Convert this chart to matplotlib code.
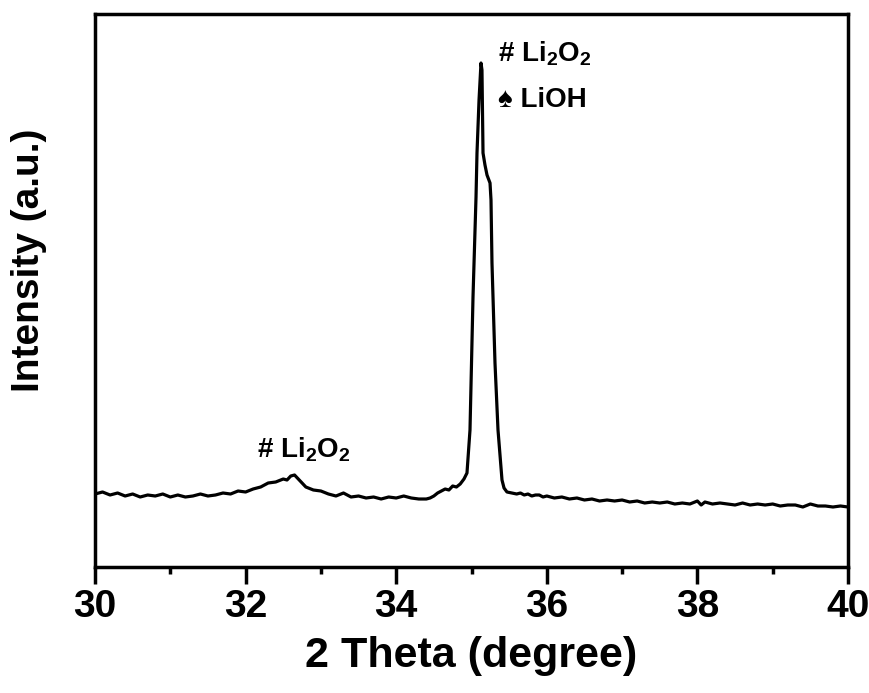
import matplotlib
matplotlib.use("Agg")
import matplotlib.pyplot as plt
from matplotlib.ticker import MultipleLocator

two_theta = [30.0, 30.1, 30.2, 30.3, 30.4, 30.5, 30.6, 30.7, 30.8, 30.9,
             31.0, 31.1, 31.2, 31.3, 31.4, 31.5, 31.6, 31.7, 31.8, 31.9,
             32.0, 32.1, 32.2, 32.3, 32.4, 32.5, 32.55, 32.6, 32.65, 32.7,
             32.75, 32.8, 32.9, 33.0, 33.1, 33.2, 33.3, 33.4, 33.5, 33.6,
             33.7, 33.8, 33.9, 34.0, 34.1, 34.2, 34.3, 34.4, 34.45, 34.5,
             34.55, 34.6, 34.65, 34.7, 34.75, 34.8, 34.85, 34.9, 34.94, 34.98,
             35.02, 35.06, 35.073, 35.1, 35.126, 35.139, 35.153, 35.179, 35.206, 35.246,
             35.259, 35.272, 35.312, 35.352, 35.405, 35.432, 35.471, 35.538, 35.6, 35.65,
             35.7, 35.75, 35.8, 35.85, 35.9, 35.95, 36.0, 36.1, 36.2, 36.3,
             36.4, 36.5, 36.6, 36.7, 36.8, 36.9, 37.0, 37.1, 37.2, 37.3,
             37.4, 37.5, 37.6, 37.7, 37.8, 37.9, 38.0, 38.05, 38.1, 38.2,
             38.3, 38.4, 38.5, 38.6, 38.7, 38.8, 38.9, 39.0, 39.1, 39.2,
             39.3, 39.4, 39.5, 39.6, 39.7, 39.8, 39.9, 40.0]
intensity = [73, 75, 72, 74, 71, 73, 70, 72, 71, 73,
             70, 72, 70, 71, 73, 71, 72, 74, 73, 76,
             75, 78, 80, 84, 85, 88, 87, 91, 92, 88,
             84, 80, 77, 76, 73, 71, 74, 70, 71, 69,
             70, 68, 70, 69, 71, 69, 68, 68, 69, 71,
             74, 76, 78, 77, 81, 80, 83, 88, 94, 137,
             270, 370, 414, 467, 504, 497, 414, 402, 392, 384,
             367, 304, 204, 137, 87, 79, 75, 74, 73, 74,
             72, 73, 71, 72, 72, 70, 71, 69, 70, 68,
             69, 67, 68, 66, 67, 66, 67, 65, 66, 64,
             65, 64, 65, 63, 64, 63, 66, 62, 65, 63,
             64, 63, 62, 64, 62, 63, 62, 63, 61, 62,
             62, 60, 63, 61, 61, 60, 61, 60]

xticks = [30, 32, 34, 36, 38, 40]

plt.rcParams['mathtext.fontset'] = 'custom'
plt.rcParams['mathtext.rm'] = 'Liberation Sans:bold'
plt.rcParams['mathtext.it'] = 'Liberation Sans:bold'
plt.rcParams['mathtext.bf'] = 'Liberation Sans:bold'

fig = plt.figure(figsize=(8.69, 6.93), dpi=100)
ax = fig.add_axes([95/869, 1-567/693, (848-95)/869, (567-14)/693])
ax.plot(two_theta, intensity, color='black', lw=2.3)
ax.set_xlim(30, 40)
ax.set_ylim(0, 553)
ax.set_xticks(xticks)
ax.xaxis.set_minor_locator(MultipleLocator(1))
ax.set_yticks([])
ax.tick_params(axis='x', which='major', direction='out', length=12, width=2.5, pad=4)
ax.tick_params(axis='x', which='minor', direction='out', length=5, width=2.5)
for s in ax.spines.values():
    s.set_linewidth(2.5)

fam = ['Liberation Sans', 'DejaVu Sans']
for lab in ax.get_xticklabels():
    lab.set_fontfamily(fam)
    lab.set_fontweight('bold')
    lab.set_fontsize(28)
ax.set_xlabel('2 Theta (degree)', family=fam, fontweight='bold', fontsize=31, labelpad=8)
ax.set_ylabel('Intensity (a.u.)', family=fam, fontweight='bold', fontsize=28)
ax.yaxis.label.set_va('center')
ax.yaxis.set_label_coords(-0.088, 0.555)

ann_font = dict(family=fam, fontweight='bold', fontsize=20)
ax.text(35.35, 505, r'# Li$_2$O$_2$', ha='left', va='baseline', **ann_font)
ax.text(35.35, 460, '\u2660 LiOH', ha='left', va='baseline', **ann_font)
ax.text(32.15, 110, r'# Li$_2$O$_2$', ha='left', va='baseline', **ann_font)

fig.savefig('out.png', dpi=100)
